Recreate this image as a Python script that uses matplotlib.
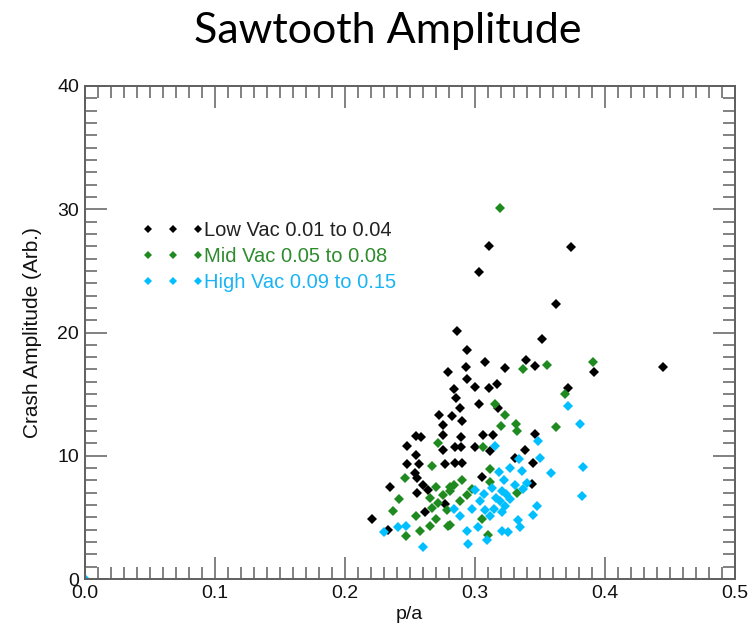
import matplotlib
matplotlib.use("Agg")
import matplotlib.pyplot as plt
from matplotlib.ticker import MultipleLocator, FormatStrFormatter

# ---------------- data ----------------
low_x = [0.311, 0.303, 0.374, 0.3627, 0.2867, 0.3515, 0.2943, 0.308, 0.3394, 0.3465,
         0.392, 0.4448, 0.2933, 0.3232, 0.2796, 0.2938, 0.3003, 0.311, 0.3171, 0.2837,
         0.3718, 0.2857, 0.3035, 0.3181, 0.2887, 0.2824, 0.2901, 0.2756, 0.2725,
         0.2549, 0.2583, 0.2756, 0.2482, 0.2756, 0.2549, 0.2847, 0.2482, 0.2573, 0.2772,
         0.2543, 0.2559, 0.2604, 0.235, 0.2559, 0.2644, 0.2772, 0.2614, 0.2209, 0.2335,
         0.2897, 0.306, 0.3141, 0.3465, 0.2892, 0.3003, 0.3118, 0.3384, 0.331, 0.2847,
         0.2901, 0.3451, 0.3053, 0.3438]
low_y = [27.0, 24.9, 26.9, 22.3, 20.1, 19.5, 18.6, 17.6, 17.8, 17.3,
         16.8, 17.2, 17.2, 17.1, 16.8, 16.2, 15.6, 15.5, 15.8, 15.4,
         15.5, 14.7, 14.2, 13.9, 13.9, 13.2, 12.8, 12.5, 13.3,
         11.6, 11.5, 11.7, 10.8, 10.5, 10.1, 10.7, 9.3, 9.3, 9.3,
         8.6, 8.2, 7.6, 7.5, 7.0, 7.2, 6.1, 5.4, 4.9, 4.0,
         11.5, 11.7, 11.7, 11.8, 10.7, 10.7, 10.4, 10.5, 9.8, 9.4,
         9.4, 9.4, 8.3, 7.7]

mid_x = [0.319, 0.3556, 0.3374, 0.391, 0.3695, 0.3156, 0.3232, 0.3201, 0.3318, 0.3627,
         0.3323, 0.2715, 0.267, 0.2462, 0.2705, 0.2806, 0.2421, 0.2654, 0.2715, 0.267,
         0.2371, 0.2549, 0.2705, 0.2654, 0.2578, 0.2472, 0.2796, 0.306, 0.3118, 0.3118,
         0.2901, 0.2837, 0.2806, 0.3323, 0.2887, 0.3053, 0.2806, 0.3105, 0.2756, 0.2786,
         0.2938, 0.2979]
mid_y = [30.1, 17.4, 17.0, 17.6, 15.0, 14.2, 13.3, 12.4, 12.6, 12.3,
         12.0, 11.0, 9.2, 8.2, 7.5, 7.5, 6.5, 6.6, 6.2, 5.8,
         5.5, 5.1, 4.9, 4.3, 3.9, 3.5, 4.3, 10.7, 8.9, 7.9,
         8.0, 7.6, 7.1, 7.0, 6.3, 4.9, 4.4, 3.6, 6.8, 5.6,
         6.8, 7.3]

high_x = [0.3718, 0.3809, 0.3482, 0.3156, 0.3502, 0.3343, 0.3189, 0.3272, 0.3361, 0.3586,
          0.383, 0.3222, 0.3399, 0.331, 0.3003, 0.3067, 0.3242, 0.3374, 0.3823, 0.3039,
          0.3196, 0.3272, 0.2837, 0.2979, 0.3144, 0.3232, 0.3475, 0.308, 0.2887, 0.3118,
          0.3207, 0.3445, 0.3333, 0.3028, 0.2938, 0.3207, 0.3259, 0.3348, 0.3093, 0.2948,
          0.230, 0.2411, 0.2472, 0.260, 0.3161, 0.313, 0.3212, 0.0]
high_y = [14.0, 12.6, 11.2, 10.8, 9.8, 9.7, 8.7, 9.0, 8.8, 8.6,
          9.1, 8.0, 7.8, 7.6, 7.2, 6.9, 6.9, 7.3, 6.7, 6.3,
          6.3, 6.5, 5.7, 5.7, 5.7, 5.9, 5.9, 5.6, 5.1, 5.1,
          5.4, 5.2, 4.8, 4.2, 3.9, 3.9, 3.8, 4.2, 3.2, 2.8,
          3.8, 4.2, 4.3, 2.6, 6.6, 7.4, 7.1, 0.0]

labels = ["Low Vac 0.01 to 0.04", "Mid Vac 0.05 to 0.08", "High Vac 0.09 to 0.15"]
colors = ["#000000", "#1f8a1f", "#00bfff"]
label_colors = ["#222222", "#2e8b2e", "#1ab4f5"]

title = "Sawtooth Amplitude"
xlabel = "p/a"
ylabel = "Crash Amplitude (Arb.)"

# ---------------- figure ----------------
W, H = 751, 624
fig = plt.figure(figsize=(W / 100, H / 100), dpi=100)
L, R, T, B = 84.5, 735.0, 86.0, 579.0
ax = fig.add_axes([L / W, 1 - B / H, (R - L) / W, (B - T) / H])

tick_font = "Liberation Sans"
fs = 14.0

handles = []
for xs, ys, c, lab in zip([low_x, mid_x, high_x], [low_y, mid_y, high_y], colors, labels):
    h, = ax.plot(xs, ys, linestyle="none", marker="D", markersize=5.6,
                 markerfacecolor=c, markeredgewidth=0, color=c, label=lab,
                 clip_on=True)
    handles.append(h)

ax.set_xlim(0, 0.5)
ax.set_ylim(0, 40)
ax.xaxis.set_major_locator(MultipleLocator(0.1))
ax.xaxis.set_minor_locator(MultipleLocator(0.01))
ax.yaxis.set_major_locator(MultipleLocator(10))
ax.yaxis.set_minor_locator(MultipleLocator(1))
ax.xaxis.set_major_formatter(FormatStrFormatter("%.1f"))
ax.yaxis.set_major_formatter(FormatStrFormatter("%d"))

edge = "#5f5f5f"
for s in ax.spines.values():
    s.set_color(edge)
    s.set_linewidth(1.4)
ax.tick_params(which="both", direction="in", top=True, right=True,
               color=edge, width=1.1, labelsize=fs, labelcolor="#111111")
ax.tick_params(which="major", length=16)
ax.tick_params(which="minor", length=8.5)
ax.tick_params(axis="x", pad=4)
ax.tick_params(axis="y", pad=4)
for lab in ax.get_xticklabels() + ax.get_yticklabels():
    lab.set_fontfamily(tick_font)

ax.set_xlabel(xlabel, fontsize=fs, family=tick_font, color="#111111", labelpad=3)
ax.set_ylabel(ylabel, fontsize=15, family=tick_font, color="#111111", labelpad=11)

lfs = 14.5
leg = ax.legend(handles=handles, loc="upper left", bbox_to_anchor=(0.0885, 0.726),
                numpoints=3, handlelength=3.08, handletextpad=0.0, markerscale=0.68,
                frameon=False, borderpad=0, borderaxespad=0, labelspacing=0.34,
                prop={"family": tick_font, "size": lfs})
for txt, c in zip(leg.get_texts(), label_colors):
    txt.set_color(c)

fig.text(388 / W, 1 - 31 / H, title, fontsize=31, family="Lato",
         ha="center", va="center", color="#000000")

fig.savefig("out.png", dpi=100)
